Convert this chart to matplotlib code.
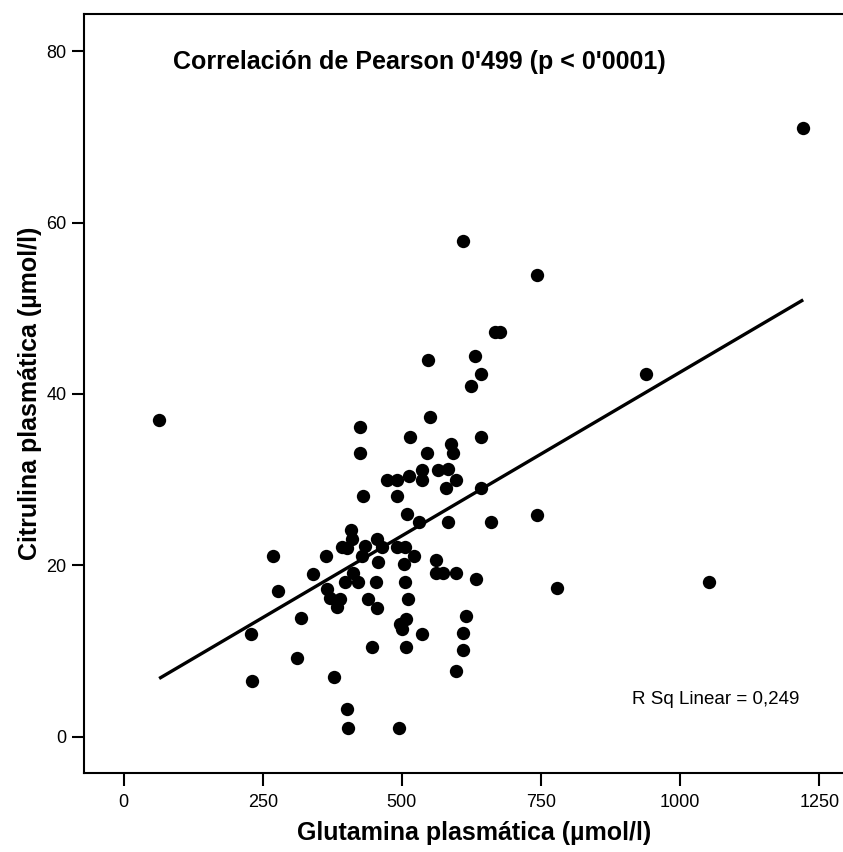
import numpy as np
import matplotlib
matplotlib.use("Agg")
import matplotlib.pyplot as plt

plt.rcParams['font.family'] = ['Liberation Sans', 'DejaVu Sans']

# Glutamina / citrulina plasmáticas (µmol/l), un punto por paciente
glutamina = [64, 229, 230, 269, 277, 312, 318, 341, 364, 365,
             371, 379, 384, 389, 392, 398, 401, 401, 404, 408,
             410, 413, 422, 425, 425, 428, 430, 434, 440, 447,
             453, 455, 455, 458, 464, 473, 491, 491, 492, 494,
             497, 500, 504, 505, 506, 507, 507, 510, 511, 513,
             515, 521, 530, 536, 537, 537, 545, 547, 551, 561,
             561, 565, 574, 580, 583, 583, 589, 592, 597, 597,
             598, 609, 609, 610, 615, 625, 631, 634, 642, 642,
             643, 660, 667, 676, 742, 743, 779, 938, 1051, 1221]
citrulina = [37.0, 12.0, 6.5, 21.1, 17.0, 9.2, 13.9, 19.0, 21.1, 17.2,
             16.2, 7.0, 15.1, 16.1, 22.1, 18.1, 22.0, 3.2, 1.0, 24.1,
             23.1, 19.1, 18.1, 36.1, 33.1, 21.1, 28.1, 22.2, 16.1, 10.5,
             18.1, 23.1, 15.0, 20.4, 22.1, 30.0, 30.0, 22.1, 28.1, 1.0,
             13.1, 12.6, 20.1, 18.1, 22.1, 10.5, 13.7, 26.0, 16.1, 30.4,
             35.0, 21.1, 25.0, 12.0, 31.1, 30.0, 33.1, 44.0, 37.3, 20.6,
             19.1, 31.1, 19.1, 29.0, 25.0, 31.2, 34.1, 33.1, 30.0, 19.1,
             7.6, 12.1, 10.1, 57.9, 14.1, 40.9, 44.4, 18.4, 42.3, 29.0,
             35.0, 25.0, 47.2, 47.2, 25.9, 53.9, 17.4, 42.3, 18.0, 71.0]

x_ticks = [0, 250, 500, 750, 1000, 1250]
y_ticks = [0, 20, 40, 60, 80]

titulo = "Correlación de Pearson 0'499 (p < 0'0001)"
r2_texto = "R Sq Linear = 0,249"

x = np.array(glutamina, dtype=float)
y = np.array(citrulina, dtype=float)
pendiente, ordenada = np.polyfit(x, y, 1)
x_recta = np.array([x.min(), x.max()])
y_recta = pendiente * x_recta + ordenada

fig = plt.figure(figsize=(8.43, 8.52), dpi=100)
ax = fig.add_axes([84 / 843, 79 / 852, 781 / 843, 759 / 852])

ax.plot(x, y, 'o', color='black', markersize=9.6, markeredgewidth=0, zorder=3)
ax.plot(x_recta, y_recta, color='black', linewidth=2.4, solid_capstyle='butt', zorder=2)

ax.set_xlim(-71, 1332)
ax.set_ylim(-4.25, 84.35)
ax.set_xticks(x_ticks)
ax.set_yticks(y_ticks)

for s in ax.spines.values():
    s.set_linewidth(1.5)
ax.spines['right'].set_visible(False)

ax.tick_params(axis='both', direction='out', length=9, width=1.5, labelsize=13)
ax.tick_params(axis='y', pad=3.5)
ax.tick_params(axis='x', pad=6)

ax.set_xlabel('Glutamina plasmática (µmol/l)', fontsize=18, fontweight='bold', labelpad=7)
ax.set_ylabel('Citrulina plasmática (µmol/l)', fontsize=18, fontweight='bold', labelpad=3)

ax.text((173 - 84) / 781, (773 - 62) / 759, titulo, transform=ax.transAxes,
        fontsize=18, fontweight='bold', ha='left', va='center')
ax.text((632 - 84) / 781, (773 - 700) / 759, r2_texto, transform=ax.transAxes,
        fontsize=13.5, ha='left', va='center')

fig.savefig('out.png', dpi=100)
